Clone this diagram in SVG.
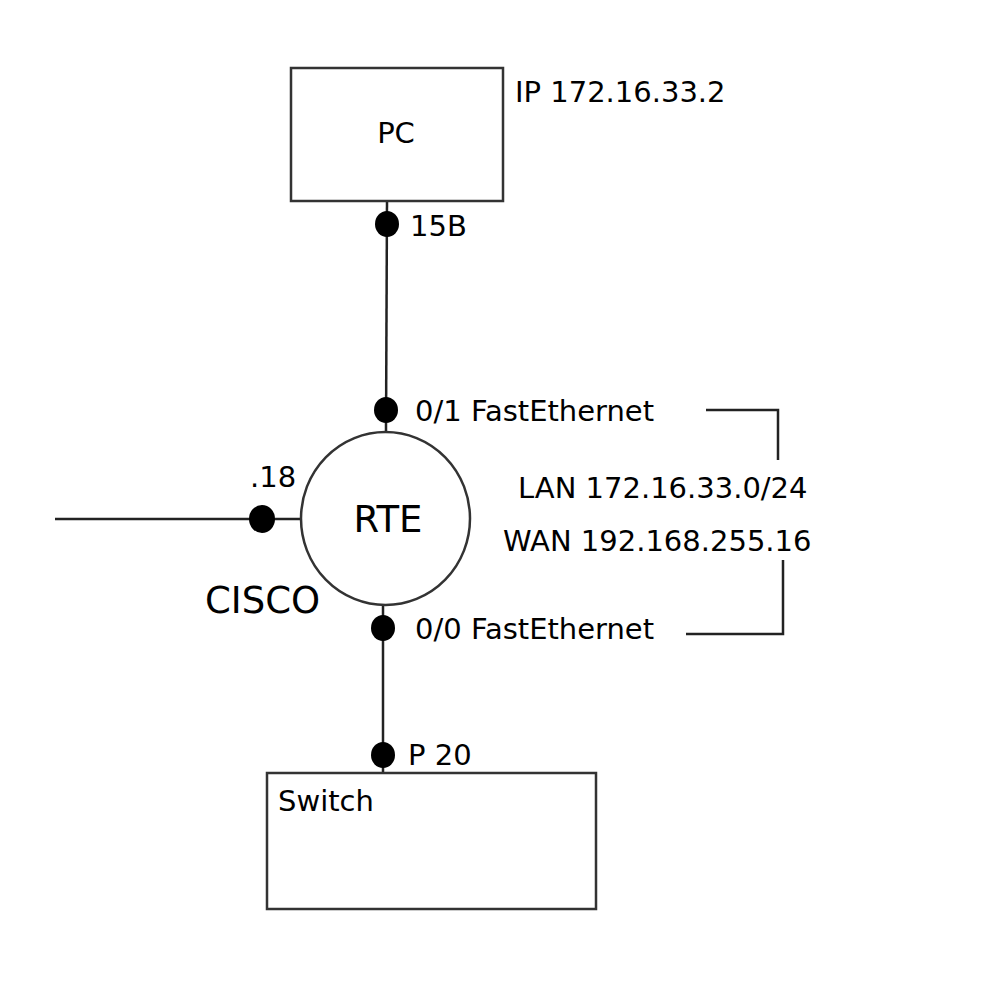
<svg xmlns="http://www.w3.org/2000/svg" width="1000" height="1000" viewBox="0 0 1000 1000">
<style>
  .box { fill: #fff; stroke: #333; stroke-width: 2.5; }
  .wire { fill: none; stroke: #222; stroke-width: 2.5; }
  .dot { fill: #000; }
  text { font-family: "DejaVu Sans", Verdana, sans-serif; fill: #000; font-size: 29px; }
  .big { font-size: 37px; }
</style>
<rect width="1000" height="1000" fill="#fff"/>
<g id="connectors">
  <line class="wire" x1="387" y1="201" x2="386" y2="432"/>
  <line class="wire" x1="383" y1="605" x2="383" y2="773"/>
  <line class="wire" x1="55" y1="519" x2="301" y2="519"/>
  <polyline class="wire" points="706,410 778,410 778,460"/>
  <polyline class="wire" points="783,560 783,634 686,634"/>
</g>
<g id="pc">
  <rect class="box" x="291" y="68" width="212" height="133"/>
  <text x="396" y="143" text-anchor="middle">PC</text>
  <text x="515" y="102">IP 172.16.33.2</text>
</g>
<g id="pc-port">
  <ellipse class="dot" cx="387" cy="224" rx="12" ry="13"/>
  <text x="410" y="236" font-size="28">15B</text>
</g>
<g id="rte">
  <ellipse class="box" cx="385.5" cy="518.5" rx="84.5" ry="86.5"/>
  <text class="big" x="388" y="532" text-anchor="middle">RTE</text>
  <text class="big" x="205" y="613" font-size="36">CISCO</text>
</g>
<g id="port-01">
  <ellipse class="dot" cx="386" cy="410" rx="12" ry="13"/>
  <text x="415" y="421">0/1 FastEthernet</text>
</g>
<g id="port-18">
  <ellipse class="dot" cx="262" cy="519" rx="13" ry="14"/>
  <text x="250" y="487" font-size="28">.18</text>
</g>
<g id="port-00">
  <ellipse class="dot" cx="383" cy="628" rx="12" ry="13"/>
  <text x="415" y="639">0/0 FastEthernet</text>
</g>
<g id="networks">
  <text x="518" y="498">LAN 172.16.33.0/24</text>
  <text x="503" y="551">WAN 192.168.255.16</text>
</g>
<g id="switch-port">
  <ellipse class="dot" cx="383" cy="755" rx="12" ry="13"/>
  <text x="408" y="765" font-size="28">P 20</text>
</g>
<g id="switch">
  <rect class="box" x="267" y="773" width="329" height="136"/>
  <text x="278" y="811" font-size="28">Switch</text>
</g>
</svg>
